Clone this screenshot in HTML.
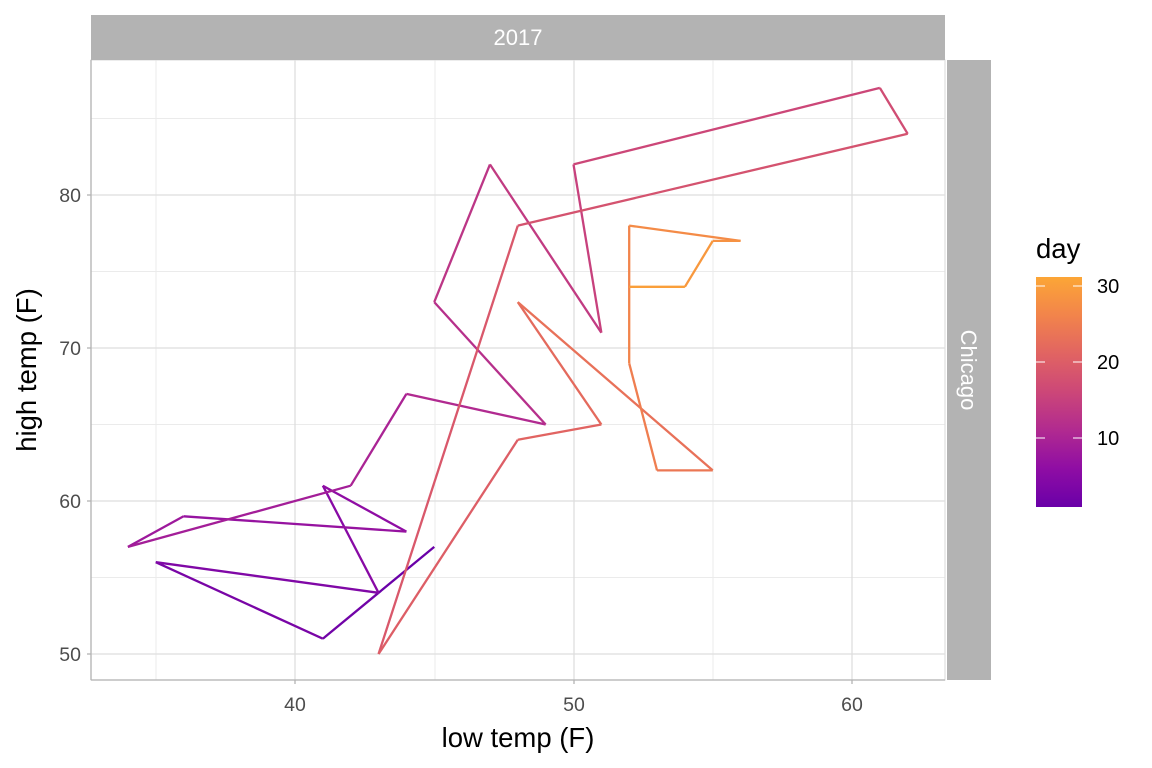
<!DOCTYPE html>
<html><head><meta charset="utf-8"><style>
html,body{margin:0;padding:0;background:#fff;}
svg{display:block;font-family:"Liberation Sans",sans-serif;}
</style></head><body>
<svg id="s" width="1152" height="768" xmlns="http://www.w3.org/2000/svg">
<defs>
<linearGradient id="g" x1="0" y1="1" x2="0" y2="0">
<stop offset="0" stop-color="#6a00a8"/>
<stop offset="0.1667" stop-color="#8f0da4"/>
<stop offset="0.3333" stop-color="#b12a90"/>
<stop offset="0.5" stop-color="#cc4778"/>
<stop offset="0.6667" stop-color="#e16462"/>
<stop offset="0.8333" stop-color="#f2844b"/>
<stop offset="1" stop-color="#fca636"/>
</linearGradient>
</defs>
<rect x="91" y="60" width="854" height="620" fill="#fff"/>
<g stroke="#ebebeb" stroke-width="1">
<line x1="156" y1="60" x2="156" y2="680"/><line x1="435" y1="60" x2="435" y2="680"/><line x1="713" y1="60" x2="713" y2="680"/>
<line x1="91" y1="118.5" x2="945" y2="118.5"/><line x1="91" y1="271.5" x2="945" y2="271.5"/><line x1="91" y1="424.5" x2="945" y2="424.5"/><line x1="91" y1="577.5" x2="945" y2="577.5"/>
</g>
<g stroke="#dedede" stroke-width="1.3">
<line x1="295" y1="60" x2="295" y2="680"/><line x1="574" y1="60" x2="574" y2="680"/><line x1="852" y1="60" x2="852" y2="680"/>
<line x1="91" y1="195" x2="945" y2="195"/><line x1="91" y1="348" x2="945" y2="348"/><line x1="91" y1="501" x2="945" y2="501"/><line x1="91" y1="654" x2="945" y2="654"/>
</g>
<rect x="91" y="60" width="854" height="620" fill="none" stroke="#e0e0e0" stroke-width="1.2"/>
<g stroke="#b3b3b3" stroke-width="1.3">
<line x1="91" y1="60" x2="91" y2="680"/><line x1="91" y1="680" x2="945" y2="680"/>
<line x1="295" y1="680" x2="295" y2="684"/><line x1="574" y1="680" x2="574" y2="684"/><line x1="852" y1="680" x2="852" y2="684"/>
<line x1="87" y1="195" x2="91" y2="195"/><line x1="87" y1="348" x2="91" y2="348"/><line x1="87" y1="501" x2="91" y2="501"/><line x1="87" y1="654" x2="91" y2="654"/>
</g>
<g id="lines" stroke-width="2.3" stroke-linecap="butt" fill="none"></g>
<rect x="91" y="15" width="854" height="45" fill="#b3b3b3"/>
<text x="518" y="45" fill="#fff" font-size="22" text-anchor="middle">2017</text>
<rect x="947" y="60" width="44" height="620" fill="#b3b3b3"/>
<text transform="translate(961,370) rotate(90)" fill="#fff" font-size="22" text-anchor="middle">Chicago</text>
<g fill="#4d4d4d" font-size="19.5" text-anchor="end">
<text x="81" y="202">80</text><text x="81" y="355">70</text><text x="81" y="508">60</text><text x="81" y="661">50</text>
</g>
<g fill="#4d4d4d" font-size="19.5" text-anchor="middle">
<text x="295" y="711">40</text><text x="574" y="711">50</text><text x="852" y="711">60</text>
</g>
<text x="518" y="747" font-size="27.5" text-anchor="middle">low temp (F)</text>
<text transform="translate(36,370) rotate(-90)" font-size="27.5" text-anchor="middle">high temp (F)</text>
<text x="1036" y="258" font-size="27.5">day</text>
<rect x="1036" y="277" width="46" height="230" fill="url(#g)"/>
<g stroke="#fff" stroke-width="1">
<line x1="1036" y1="286" x2="1045" y2="286"/><line x1="1073" y1="286" x2="1082" y2="286"/>
<line x1="1036" y1="362" x2="1045" y2="362"/><line x1="1073" y1="362" x2="1082" y2="362"/>
<line x1="1036" y1="438" x2="1045" y2="438"/><line x1="1073" y1="438" x2="1082" y2="438"/>
</g>
<g font-size="20" fill="#000">
<text x="1097" y="293">30</text><text x="1097" y="369">20</text><text x="1097" y="445">10</text>
</g>
</svg>
<script>
var P=[[45,57],[43,54],[41,51],[35,56],[43,54],[41,61],[44,58],[36,59],[34,57],[42,61],[44,67],[49,65],[45,73],[47,82],[51,71],[50,82],[61,87],[62,84],[48,78],[43,50],[48,64],[51,65],[48,73],[55,62],[53,62],[52,69],[52,78],[56,77],[55,77],[54,74],[52,74]];
var C=[[106,0,168],[143,13,164],[177,42,144],[204,71,120],[225,100,98],[242,132,75],[252,166,54]];
function col(d){var t=(d-1)/30*6;var i=Math.min(5,Math.floor(t));var f=t-i;var a=C[i],b=C[i+1];return "rgb("+[0,1,2].map(function(k){return Math.round(a[k]+(b[k]-a[k])*f)}).join(",")+")";}
function X(v){return 295+(v-40)*27.85;}function Y(v){return 654-(v-50)*15.3;}
var g=document.getElementById("lines"),h="";
for(var i=0;i<P.length-1;i++){h+='<line x1="'+X(P[i][0])+'" y1="'+Y(P[i][1])+'" x2="'+X(P[i+1][0])+'" y2="'+Y(P[i+1][1])+'" stroke="'+col(i+1)+'"/>';}
g.innerHTML=h;
</script>
</body></html>
